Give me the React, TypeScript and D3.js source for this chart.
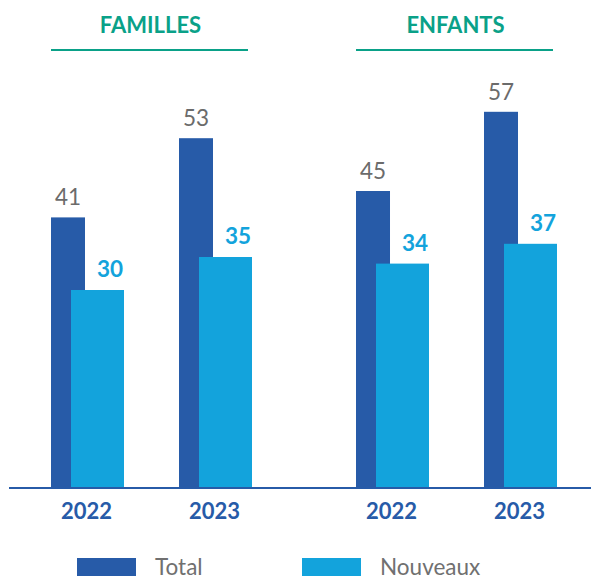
import React, { useEffect, useRef } from 'react';
import * as d3 from 'd3';

// données
const groups = ['FAMILLES', 'ENFANTS'];
const years = ['2022', '2023'];
const totalValues = [[41, 53], [45, 57]];
const nouveauxValues = [[30, 35], [34, 37]];
const legendLabels = ['Total', 'Nouveaux'];

const W = 591;
const H = 576;
const BLUE = '#275ba8';
const CYAN = '#13a3dc';
const TEAL = '#0aa188';
const FONT = 'Lato, "Open Sans", sans-serif';

const App = () => {
  const svgRef = useRef<SVGSVGElement>(null);

  useEffect(() => {
    const svg = d3.select(svgRef.current);
    svg.selectAll('*').remove();

    const baseline = 488;
    const y = d3.scaleLinear().domain([0, 60]).range([baseline, 92]);

    const x0 = d3.scaleBand().domain(groups).range([51, 557]).paddingInner(0.341).paddingOuter(0);
    const x1 = d3.scaleBand().domain(years).range([0, x0.bandwidth()]).paddingInner(0.4297).paddingOuter(0);

    const totalW = 34; // largeur barre Total
    const nouvOffset = 20; // décalage barre Nouveaux
    const nouvW = x1.bandwidth() - nouvOffset;

    groups.forEach((g, gi) => {
      const gx = x0(g)!;
      const grp = svg.append('g').attr('transform', `translate(${gx},0)`);

      // titre du groupe
      grp.append('text')
        .attr('x', x0.bandwidth() / 2 - 1)
        .attr('y', 33)
        .attr('text-anchor', 'middle')
        .style('font-family', FONT)
        .style('font-weight', 700)
        .style('font-size', '22px')
        .style('fill', TEAL)
        .text(g);

      grp.append('line')
        .attr('x1', 0)
        .attr('x2', x0.bandwidth() - 4)
        .attr('y1', 50)
        .attr('y2', 50)
        .attr('stroke', TEAL)
        .attr('stroke-width', 2);

      years.forEach((yr, yi) => {
        const sx = x1(yr)!;
        const tv = totalValues[gi][yi];
        const nv = nouveauxValues[gi][yi];

        grp.append('rect')
          .attr('x', sx)
          .attr('y', y(tv))
          .attr('width', totalW)
          .attr('height', baseline - y(tv))
          .attr('fill', BLUE);

        grp.append('rect')
          .attr('x', sx + nouvOffset)
          .attr('y', y(nv))
          .attr('width', nouvW)
          .attr('height', baseline - y(nv))
          .attr('fill', CYAN);

        grp.append('text')
          .attr('x', sx + totalW / 2)
          .attr('y', y(tv) - 12)
          .attr('text-anchor', 'middle')
          .style('font-family', FONT)
          .style('font-size', '22.5px')
          .style('fill', '#6b6b6b')
          .text(tv);

        grp.append('text')
          .attr('x', sx + x1.bandwidth() - 1)
          .attr('y', y(nv) - 13)
          .attr('text-anchor', 'end')
          .style('font-family', FONT)
          .style('font-weight', 700)
          .style('font-size', '22.5px')
          .style('fill', CYAN)
          .text(nv);

        grp.append('text')
          .attr('x', sx + x1.bandwidth() / 2 - 1)
          .attr('y', 519)
          .attr('text-anchor', 'middle')
          .style('font-family', FONT)
          .style('font-weight', 700)
          .style('font-size', '22px')
          .style('fill', BLUE)
          .text(yr);
      });
    });

    // ligne de base
    svg.append('line')
      .attr('x1', 9)
      .attr('x2', W)
      .attr('y1', baseline)
      .attr('y2', baseline)
      .attr('stroke', BLUE)
      .attr('stroke-width', 2);

    // légende
    const legendX = [77, 302];
    const legendColors = [BLUE, CYAN];
    legendLabels.forEach((lab, i) => {
      svg.append('rect')
        .attr('x', legendX[i])
        .attr('y', 558)
        .attr('width', 59)
        .attr('height', 20)
        .attr('fill', legendColors[i]);
      svg.append('text')
        .attr('x', legendX[i] + 78)
        .attr('y', 575)
        .style('font-family', FONT)
        .style('font-size', '22.5px')
        .style('fill', '#707070')
        .text(lab);
    });
  }, []);

  return (
    <div style={{ position: 'absolute', left: 0, top: 0, width: W, height: H, background: '#fff' }}>
      <svg ref={svgRef} width={W} height={H}></svg>
    </div>
  );
};

export default App;
